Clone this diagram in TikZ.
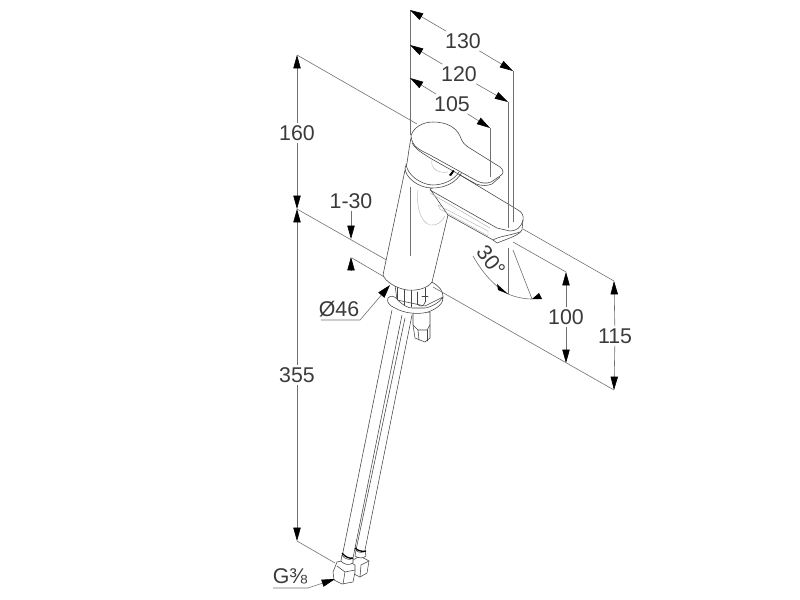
\documentclass[tikz,border=0pt]{standalone}
\usepackage{fontspec}
\setmainfont{Liberation Sans}
\usetikzlibrary{arrows.meta}
\definecolor{ink}{HTML}{444444}
\definecolor{dimc}{HTML}{707070}
\tikzset{
 dimline/.style={draw=dimc,line width=0.45pt},
 dimtip/.style={dimline,-{Triangle[length=10pt,width=5.5pt,color=black]},shorten >=0pt},
 lbl/.style={font=\fontsize{16}{19}\selectfont,text=ink!85!black,inner sep=1.5pt},
 part/.style={draw=ink,line width=0.42pt,fill=white,line join=round},
 edge/.style={draw=ink,line width=0.42pt,line join=round,line cap=round},
 faint/.style={draw=gray!60,line width=0.3pt},
}
\begin{document}
\begin{tikzpicture}[x=0.75pt,y=-0.75pt]
\useasboundingbox (0,0) rectangle (800,600);
% dimension anchors
\coordinate (topL) at (410,10); \coordinate (topR) at (513,71);
\coordinate (midL) at (410,45); \coordinate (midR) at (508,102);
\coordinate (lowL) at (410,78); \coordinate (lowR) at (490,128);
\coordinate (h1) at (297,55); \coordinate (h2) at (297,209); \coordinate (h3) at (297,541);
\coordinate (s1) at (566,272); \coordinate (s2) at (566,363);
\coordinate (u1) at (614,281); \coordinate (u2) at (614,390);
% labels
\node[lbl] (t130) at (463,41) {130};
\node[lbl] (t120) at (459,74) {120};
\node[lbl] (t105) at (452,104) {105};
\node[lbl] (t160) at (297,133) {160};
\node[lbl] (t355) at (297,375) {355};
\node[lbl] (t130b) at (351,201) {1-30};
\node[lbl] (t46) at (339,309) {Ø46};
\node[lbl] (t100) at (566,317) {100};
\node[lbl] (t115) at (615,336) {115};
\node[lbl,rotate=-52] (t30) at (491,261) {30°};
\node[lbl,inner sep=0pt] (tG) at (290,576) {G⅜};
% extension lines
\draw[dimline] (topL)--(410,135);
\draw[dimline] (h1)--(417,124);
\draw[dimline] (h2)--(390,262);
\draw[dimline] (352,258)--(398,285);
\draw[dimline] (513,242)--(s1);
\draw[dimline] (523,229)--(u1);
\draw[dimline] (h3)--(335,563);
% dimension lines
\foreach \t/\a/\b in {t130/topL/topR,t120/midL/midR,t105/lowL/lowR,t160/h1/h2,t355/h2/h3,t100/s1/s2,t115/u1/u2}{
  \draw[dimtip] (\t)--(\a);
  \draw[dimtip] (\t)--(\b);
}
\coordinate (a1) at (351,239); \coordinate (a2) at (351,257); \coordinate (a3) at (351,271);
\draw[dimtip] (t130b)--(a1);
\draw[dimtip] (a3)--(a2);
% hoses
\draw[edge] (392,310)--(342,557);
\draw[edge] (402,315)--(353,558);
\draw[edge] (405,318)--(356,550);
\draw[edge] (412,315)--(365,550);
% nipple
\draw[part] (413,312)--(413,325)--(415,338)--(425,342)--(430,338)--(430,325)--(430,312)--cycle;
\draw[edge] (413,325)--(418,330)--(427,330)--(430,325);
\draw[edge] (418,330)--(419,340);
\draw[edge] (427,330)--(427,341);
% back of escutcheon
\draw[part] (395,285)--(397,300)--(425,306)--(437,300)--(443,297)
  .. controls (443,291) and (440,287) .. (432,282)--cycle;
% escutcheon
\draw[part] (388,298) .. controls (391,295) and (394,296) .. (397,299)
  .. controls (402,305) and (408,308) .. (412,308)
  -- (425,308) .. controls (432,307) and (440,302) .. (443,297)
  .. controls (444,303) and (437,309) .. (428,312)
  .. controls (418,315) and (403,313) .. (395,308)
  .. controls (390,306) and (386,302) .. (388,298) -- cycle;
\draw[edge] (397,287)--(397,300);
\draw[edge] (404,290)--(404,305);
\draw[edge] (411,290)--(411,307) (417,292)--(417,304);
\draw[edge] (425,288)--(425,302) (422,296)--(428,296);
\draw[edge] (417,304) .. controls (420,307) and (424,307) .. (425,302);
% body
\draw[part] (405,170)--(383,275)
  .. controls (385,281) and (395,288) .. (407,290)
  .. controls (418,291) and (428,288) .. (432,282)
  --(448,215)--(460,180)--(430,170)--cycle;
\draw[faint] (418,190) .. controls (416,205) and (420,222) .. (430,225)
  .. controls (437,226) and (442,222) .. (445,216);
\draw[dimline] (410,187)--(410,256);
% spout
\draw[part] (460,175)--(518,210)
  .. controls (522,212) and (524,216) .. (523,220)
  --(522,230) .. controls (520,234) and (514,236) .. (510,238)
  --(497,243)--(493,240)--(448,215)--(430,189)--cycle;
\draw[faint] (430,193)--(490,228);
\draw[edge] (430,190)--(497,228)--(510,231)
  .. controls (516,231) and (521,228) .. (523,220);
\draw[faint] (438,205)--(488,231)--(488,236)--(440,209)--cycle;
\draw[edge] (493,240) .. controls (500,236) and (508,236) .. (520,232);
% collar
\draw[part] (411,138) .. controls (409,148) and (408,157) .. (407,163)
  --(405,168) .. controls (405,177) and (418,188) .. (432,188)
  .. controls (445,188) and (456,183) .. (462,172)
  --(430,150)--cycle;
\draw[edge] (406,164) .. controls (407,174) and (419,184) .. (432,185)
  .. controls (444,185) and (454,180) .. (459,172);
\draw[faint] (432,160) .. controls (430,168) and (438,174) .. (448,172);
% handle
\draw[part] (411,136) .. controls (413,128) and (422,122) .. (433,122)
  .. controls (446,122) and (456,127) .. (460,136)
  .. controls (462,142) and (464,144) .. (468,147)
  --(500,167) .. controls (504,170) and (504,174) .. (500,176)
  --(491,182) .. controls (486,184) and (481,183) .. (477,181)
  --(430,155) .. controls (420,150) and (412,147) .. (411,136) -- cycle;
\draw[edge] (412,143) .. controls (416,150) and (424,154) .. (430,158)
  --(476,184) .. controls (482,186) and (487,186) .. (492,184)--(500,177);
\fill[black] (449,175)--(453,170)--(454.5,171)--(451,176)--cycle;
\draw[dimline] (508,102)--(508,228);
\draw[dimline] (513,71)--(513,222);
\draw[dimline] (490,128)--(490,177);
% base line in front
\draw[dimline] (433,287)--(u2);
% nuts
\draw[part] (353,560)--(360,556)--(369,561)--(367,573)--(360,577)--(350,572)--cycle;
\draw[edge] (361,565)--(369,561) (361,565)--(360,577);
\draw[part] (333,572)--(337,562)--(346,560)--(355,565)--(355,572)--(353,582)--(342,584)--(334,580)--cycle;
\draw[edge] (337,566)--(345,572)--(355,570);
\draw[edge] (345,572)--(343,584);
% hose ferrules
\draw[part] (342,555) .. controls (344,559) and (350,561) .. (353,558)--(353,563)
  .. controls (349,566) and (343,564) .. (341,561)--cycle;
\draw[part] (356,550) .. controls (358,553) and (363,553) .. (365,551)--(366,556)
  .. controls (363,559) and (358,558) .. (355,556)--cycle;
\draw[line width=1pt,black] (342,553) .. controls (345,557) and (350,559) .. (353,558);
\draw[line width=1pt,black] (355,548) .. controls (358,551) and (363,552) .. (366,551);
% Ø46 leader
\coordinate (phi) at (390,285); \coordinate (phib) at (360,320); \coordinate (phic) at (321,320);
\draw[dimline,-{Triangle[length=10pt,width=6pt,color=black]}] (phic)--(phib)--(phi);
% G leader
\coordinate (gt) at (335,579); \coordinate (gb) at (308,588); \coordinate (gc) at (273,588);
\draw[dimline,-{Triangle[length=10pt,width=5.5pt,color=black]}] (gc)--(gb)--(gt);
% angle 30
\coordinate (r1) at (508,294); \coordinate (r2) at (532,299);
\draw[dimline] (508,248)--(r1);
\draw[dimline] (513,250)--(r2);
\coordinate (arcS) at (473,256);
\draw[dimline] (arcS) .. controls (482,272) and (493,285) .. (r1);
\draw[dimline] (r1) .. controls (515,297) and (524,299) .. (r2);
\fill[black] (508,294)--(498,290)--(497,284)--cycle;
\fill[black] (532,299)--(542,299)--(539,293)--cycle;
\end{tikzpicture}
\end{document}
